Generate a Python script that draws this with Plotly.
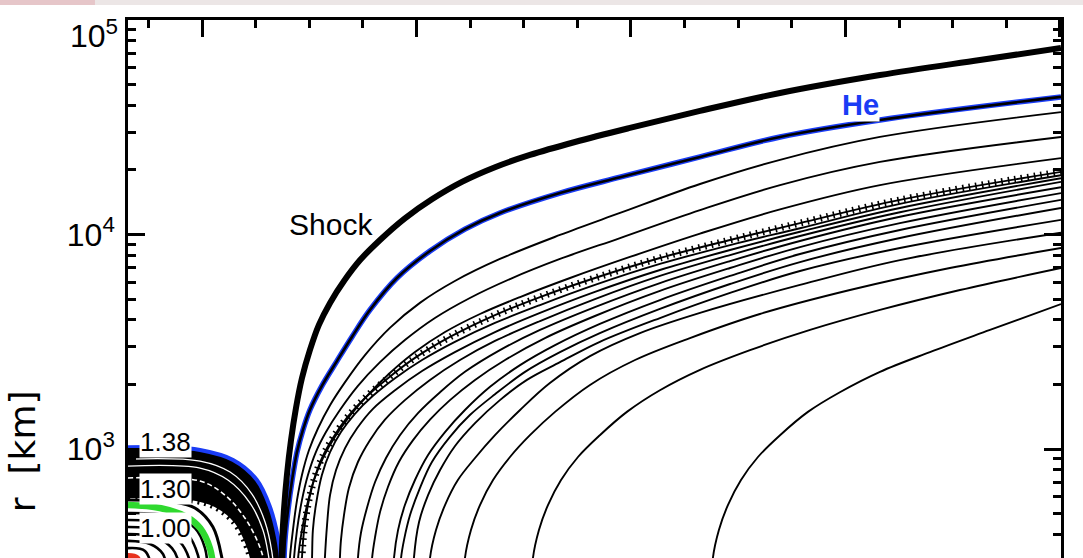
import plotly.graph_objects as go

# ---------------- data (time t in ms, radius r in km) ----------------
# shock trajectory
shock_t = [36.8, 37.3, 38.2, 39.6, 41.5, 43.8, 46.6, 50.3, 54.5, 59.7, 66.2, 73.7, 83.0, 94.6, 107.2,
           121.2, 136.6, 152.9, 173.9, 199.5, 232.2, 269.5, 316.1, 362.7, 400.5]
shock_r = [200, 357, 519, 757, 1100, 1550, 2140, 2890, 3790, 4800, 6070, 7600, 9430, 11900, 14600,
           17600, 20600, 23500, 27000, 31400, 37700, 45700, 55400, 65100, 74000]

# 1.38 Msun shell (He) before and after bounce
he_pre_t = [-34.5, -17.2, -0.9, 14.5, 25.6, 31.7, 35.4, 36.8, 37.3]
he_pre_r = [1020, 1020, 989, 889, 717, 537, 389, 310, 259]
he_post_t = [37.8, 38.7, 40.1, 42.0, 44.3, 47.1, 50.3, 55.9, 62.9, 69.9, 78.3, 90.9, 106.3, 122.6,
             138.9, 166.9, 194.9, 232.2, 269.5, 316.1, 400.5]
he_post_r = [230, 377, 519, 717, 968, 1230, 1520, 1970, 2570, 3330, 4450, 6270, 8380, 10600,
             12600, 15600, 18500, 23000, 28500, 34200, 43800]

# dense band of infalling shells (outer / inner edge, gaps)
band_top_t = he_pre_t
band_top_r = he_pre_r
band_bot_t = [-34.5, -5.6, 6.1, 15.4, 21.0, 22.8, 23.8]
band_bot_r = [597, 585, 542, 457, 357, 310, 259]
gap1_t = [-34.5, -0.9, 13.1, 23.3, 29.4, 32.6, 33.6]
gap1_r = [898, 879, 781, 617, 457, 331, 259]
gap2_t = [-34.5, -0.9, 12.1, 22.4, 28.4, 31.2, 32.2]
gap2_r = [833, 815, 717, 560, 419, 310, 259]
gapd_t = [-34.5, -0.9, 10.7, 20.0, 26.6, 29.4, 30.3]
gapd_r = [733, 709, 610, 477, 357, 288, 250]

# inner shells before bounce
outer_green_t = [-34.5, -12.6, -3.3, 5.1, 9.3, 10.3]
outer_green_r = [578, 566, 531, 433, 310, 259]
green_t = [-34.5, -19.6, -7.0, -0.9, 3.7, 5.6]
green_r = [548, 531, 482, 428, 345, 259]
core1_t = [-34.5, -14.9, -3.3, 1.4, 2.8]
core1_r = [503, 487, 428, 345, 259]
core2_t = [-34.5, -17.2, -6.5, -1.9, -0.9]
core2_r = [467, 452, 397, 320, 259]
core3_t = [-34.5, -19.6, -10.3, -6.1, -5.1]
core3_r = [433, 419, 369, 310, 259]
core4_t = [-34.5, -21.9, -14.0, -11.2, -10.3]
core4_r = [402, 389, 345, 304, 259]
core5_t = [-34.5, -24.2, -18.2, -16.3]
core5_r = [373, 361, 324, 259]
core6_t = [-34.5, -26.6, -22.8]
core6_r = [345, 335, 259]
red_t = [-34.5, -30.3, -28.4]
red_r = [317, 310, 259]

# ejected shells after bounce (outer to inner)
sA_t = [40.6, 41.0, 42.4, 44.3, 46.6, 49.9, 54.1, 59.7, 66.7, 76.0, 87.6, 101.6, 117.9, 138.9, 166.9, 194.9, 232.2, 269.5, 316.1, 400.5]
sA_r = [230, 310, 419, 578, 757, 989, 1250, 1600, 2050, 2740, 3670, 4800, 6070, 7690, 9950, 12600, 17200, 22300, 28500, 37200]
sB_t = [42.4, 42.9, 44.3, 46.6, 49.4, 53.1, 57.8, 64.3, 72.7, 83.0, 94.6, 108.6, 124.9, 143.6, 166.9, 194.9, 232.2, 269.5, 316.1, 400.5]
sB_r = [230, 310, 419, 578, 757, 968, 1200, 1520, 1970, 2540, 3220, 4080, 5060, 6200, 7690, 9630, 13000, 17000, 21800, 28500]
sC_t = [44.3, 44.8, 46.6, 49.0, 52.2, 56.4, 62.0, 69.0, 77.4, 87.6, 99.3, 113.3, 129.6, 148.3, 171.6, 199.5, 232.2, 269.5, 316.1, 400.5]
sC_r = [230, 310, 419, 548, 717, 908, 1140, 1430, 1790, 2260, 2830, 3510, 4260, 5110, 6270, 7860, 10100, 13100, 17000, 22700]
sD_t = [46.2, 46.6, 47.6, 49.4, 52.2, 55.9, 61.1, 67.6, 76.0, 86.7, 99.3, 115.6, 136.6, 157.6, 183.2, 213.5, 246.2, 278.8, 325.4, 400.5]
sD_r = [230, 310, 419, 548, 717, 908, 1130, 1400, 1730, 2140, 2660, 3330, 4210, 5110, 6270, 7770, 9430, 11300, 14500, 19600]
sE_t = [50.8, 51.3, 51.7, 53.1, 55.9, 59.7, 64.8, 71.3, 79.7, 90.0, 102.6, 117.9, 136.6, 157.6, 183.2, 213.5, 246.2, 278.8, 325.4, 400.5]
sE_r = [230, 310, 419, 548, 757, 968, 1200, 1460, 1770, 2140, 2600, 3160, 3870, 4690, 5820, 7290, 8930, 10700, 13900, 18900]
sF_t = [56.8, 57.3, 58.3, 59.7, 62.5, 66.7, 72.3, 79.7, 90.0, 102.6, 117.9, 136.6, 157.6, 183.2, 213.5, 246.2, 278.8, 325.4, 400.5]
sF_r = [230, 310, 442, 610, 798, 1010, 1250, 1540, 1880, 2310, 2830, 3510, 4310, 5400, 6830, 8470, 10300, 13300, 18300]
sG_t = [63.9, 64.3, 64.8, 66.2, 68.5, 72.7, 78.3, 85.3, 94.6, 106.3, 120.3, 136.6, 157.6, 183.2, 213.5, 246.2, 278.8, 325.4, 400.5]
sG_r = [230, 310, 377, 492, 658, 870, 1100, 1370, 1690, 2100, 2600, 3190, 3950, 5000, 6410, 8020, 9840, 12700, 17600]
sH_t = [72.3, 72.7, 74.1, 76.9, 80.7, 85.8, 92.3, 100.7, 111.0, 122.6, 138.9, 157.6, 183.2, 213.5, 246.2, 278.8, 325.4, 400.5]
sH_r = [230, 310, 406, 531, 702, 908, 1160, 1470, 1840, 2290, 2890, 3590, 4590, 5940, 7520, 9330, 12100, 16600]
sI_t = [78.8, 79.3, 80.7, 83.0, 86.7, 91.8, 98.4, 106.3, 115.6, 127.3, 141.3, 159.9, 183.2, 213.5, 246.2, 278.8, 325.4, 400.5]
sI_r = [230, 310, 389, 508, 665, 870, 1100, 1370, 1690, 2100, 2600, 3290, 4170, 5460, 6980, 8740, 11300, 15600]
sJ_t = [89.0, 89.5, 91.4, 94.6, 99.3, 105.4, 113.3, 122.6, 134.3, 148.3, 164.6, 185.5, 213.5, 246.2, 278.8, 325.4, 400.5]
sJ_r = [230, 310, 419, 548, 717, 938, 1200, 1520, 1950, 2460, 3050, 3830, 4950, 6410, 8110, 10500, 14500]
sK_t = [92.3, 92.8, 94.2, 97.0, 101.6, 107.2, 115.6, 124.9, 136.6, 150.6, 166.9, 185.5, 213.5, 246.2, 278.8, 325.4, 400.5]
sK_r = [230, 310, 377, 492, 658, 870, 1140, 1440, 1800, 2290, 2830, 3470, 4500, 5880, 7440, 9630, 13300]
sL_t = [98.4, 98.8, 101.2, 105.4, 111.0, 117.9, 127.3, 138.9, 151.5, 166.9, 185.5, 213.5, 246.2, 278.8, 325.4, 400.5]
sL_r = [230, 310, 457, 610, 798, 1030, 1320, 1690, 2100, 2540, 3160, 4080, 5340, 6760, 8650, 11700]
sM_t = [105.8, 106.3, 109.1, 113.3, 119.3, 127.3, 136.6, 148.3, 162.2, 180.9, 204.2, 232.2, 278.8, 325.4, 400.5]
sM_r = [230, 310, 419, 548, 717, 908, 1160, 1520, 2030, 2710, 3470, 4310, 5820, 7600, 10200]
sN_t = [122.1, 122.6, 125.4, 129.6, 135.7, 143.6, 152.9, 164.6, 180.9, 201.9, 227.5, 260.1, 302.1, 348.7, 400.5]
sN_r = [230, 310, 419, 548, 717, 918, 1160, 1490, 1990, 2600, 3290, 4260, 5510, 6980, 8650]
sO_t = [153.8, 154.3, 157.1, 161.3, 167.4, 175.3, 185.5, 198.1, 213.5, 232.2, 255.5, 283.5, 316.1, 353.4, 400.5]
sO_r = [230, 310, 419, 548, 717, 918, 1160, 1490, 1880, 2340, 2890, 3590, 4450, 5510, 6980]
sP_t = [237.8, 238.2, 241.0, 245.2, 251.3, 259.2, 269.5, 282.5, 297.4, 316.1, 339.4, 367.4, 400.5]
sP_r = [230, 310, 419, 548, 717, 918, 1160, 1490, 1840, 2290, 2830, 3590, 4740]

# axis ticks
x_major = [0, 100, 200, 300, 400]
x_minor = [-25, 25, 50, 75, 125, 150, 175, 225, 250, 275, 325, 350, 375]
y_major = [1e3, 1e4]
y_major_text = ["10<sup>3</sup>", "10<sup>4</sup>"]
y_minor = [m * 10 ** e for e in (2, 3, 4) for m in range(2, 10)]

BLUE = "#1a3cf5"
GREEN = "#2fd92f"
RED = "#e8321e"
FONT = "Liberation Sans, Arial, sans-serif"

fig = go.Figure()


def add(t, r, color="black", width=2.0, dash=None, fill=None, fillcolor=None):
    fig.add_trace(go.Scatter(
        x=t, y=r, mode="lines", hoverinfo="skip",
        line=dict(color=color, width=width, dash=dash, shape="spline", smoothing=1.0),
        fill=fill, fillcolor=fillcolor))


# band of infalling shells
add(band_top_t, band_top_r, color="black", width=0.5)
add(band_bot_t, band_bot_r, color="black", width=2, fill="tonexty", fillcolor="black")
add(band_bot_t, band_bot_r, color="black", width=8, dash="2px,5px")
add(gap1_t, gap1_r, color="white", width=1.3)
add(gap2_t, gap2_r, color="white", width=1.3)
add(gapd_t, gapd_r, color="white", width=1.6, dash="5px,3px")

# inner core shells
for t, r in [(core1_t, core1_r), (core2_t, core2_r), (core3_t, core3_r),
             (core4_t, core4_r), (core5_t, core5_r), (core6_t, core6_r)]:
    add(t, r, width=2.6)
add(red_t, red_r, color=RED, width=6)
add(outer_green_t, outer_green_r, width=3)
add(green_t, green_r, color=GREEN, width=6.5)

# ejected shells
for t, r in [(sA_t, sA_r), (sB_t, sB_r), (sC_t, sC_r), (sD_t, sD_r), (sE_t, sE_r),
             (sF_t, sF_r), (sG_t, sG_r), (sH_t, sH_r), (sI_t, sI_r), (sJ_t, sJ_r),
             (sK_t, sK_r), (sL_t, sL_r), (sM_t, sM_r), (sN_t, sN_r), (sO_t, sO_r),
             (sP_t, sP_r)]:
    add(t, r, width=1.9)
add(sD_t, sD_r, width=7, dash="1.6px,5px")

# He shell
add(he_post_t, he_post_r, color=BLUE, width=5.5)
add(he_post_t, he_post_r, color="black", width=2.6)
add(he_pre_t, he_pre_r, color=BLUE, width=4)

# shock
add(shock_t, shock_r, color="black", width=6)

annotations = [
    dict(x=60.1, y=4.049, text="Shock", showarrow=False, font=dict(size=30, color="black", family=FONT)),
    dict(x=306.8, y=4.603, text="<b>He</b>", showarrow=False, font=dict(size=29, color=BLUE, family=FONT),
         bgcolor="white", borderpad=0),
    dict(x=-17.2, y=3.033, text="1.38", showarrow=False, font=dict(size=26, color="black", family=FONT),
         bgcolor="white", borderpad=0),
    dict(x=-17.2, y=2.8135, text="1.30", showarrow=False, font=dict(size=26, color="black", family=FONT),
         bgcolor="white", borderpad=0),
    dict(x=-17.2, y=2.6317, text="1.00", showarrow=False, font=dict(size=26, color="black", family=FONT),
         bgcolor="white", borderpad=0),
    dict(xref="paper", yref="paper", x=0, y=1, xanchor="right", yanchor="top", xshift=-8, yshift=8,
         text="10<sup>5</sup>", showarrow=False, font=dict(size=32, color="black", family=FONT)),
    dict(xref="paper", yref="y", x=0, y=2.99, xanchor="center", yanchor="middle", xshift=-106,
         text="r  [km]", textangle=-90, showarrow=False,
         font=dict(size=36, color="black", family="DejaVu Sans, sans-serif")),
]

fig.update_layout(
    width=1083, height=558,
    margin=dict(l=128, r=22, t=20, b=0),
    paper_bgcolor="white", plot_bgcolor="white",
    showlegend=False,
    annotations=annotations,
    shapes=[
        dict(type="rect", xref="paper", yref="paper", x0=-0.14, x1=1.03, y0=1.0279, y1=1.04,
             fillcolor="#ece6e6", line=dict(width=0), layer="below"),
        dict(type="rect", xref="paper", yref="paper", x0=-0.14, x1=-0.0354, y0=1.0279, y1=1.04,
             fillcolor="#e6c6c9", line=dict(width=0), layer="below"),
    ],
    xaxis=dict(
        range=[-34.5, 400.5], side="top", showline=True, linecolor="black", linewidth=2.5,
        mirror=False, ticks="inside", ticklen=17, tickwidth=2.5, tickcolor="black",
        tickvals=x_major, showticklabels=False, showgrid=False, zeroline=False,
        minor=dict(ticks="inside", ticklen=8, tickwidth=2.5, tickcolor="black", tickvals=x_minor, showgrid=False),
    ),
    yaxis=dict(
        type="log", range=[2.492, 5.0], showline=True, linecolor="black", linewidth=2.5,
        mirror="ticks", ticks="inside", ticklen=17, tickwidth=2.5, tickcolor="black",
        tickvals=y_major, ticktext=y_major_text, showgrid=False, zeroline=False,
        tickfont=dict(size=32, color="black", family=FONT), ticklabelstandoff=4,
        minor=dict(ticks="inside", ticklen=8, tickwidth=2.5, tickcolor="black", tickvals=y_minor, showgrid=False),
    ),
)

fig.write_html("out.html", config={"displayModeBar": False},
               post_script="document.body.style.margin='0';")
